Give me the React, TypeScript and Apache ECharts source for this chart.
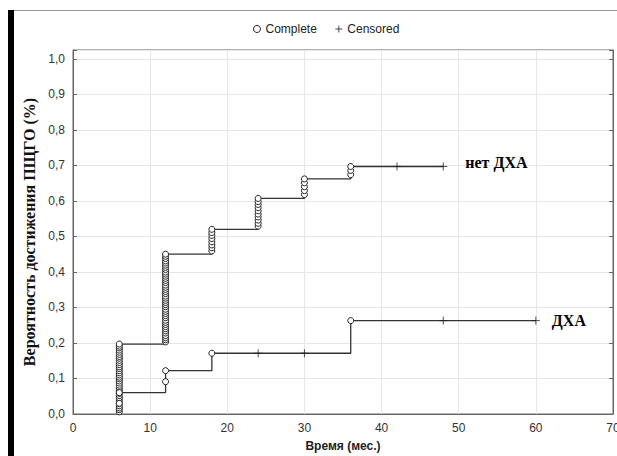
import React, { useEffect, useRef } from "react";
import * as echarts from "echarts";

// Step curves (time in months, cumulative probability)
const noDhaSteps: [number, number][] = [
  [6, 0], [6, 0.197], [12, 0.45], [18, 0.52], [24, 0.607], [30, 0.662], [36, 0.697], [48, 0.697],
];
const dhaSteps: [number, number][] = [
  [6, 0], [6, 0.06], [12, 0.122], [18, 0.171], [36, 0.263], [60, 0.263],
];

// Complete (event) markers
const noDha6 = [0.006, 0.012, 0.017, 0.023, 0.029, 0.035, 0.041, 0.046, 0.052, 0.058, 0.064, 0.07, 0.075, 0.081, 0.087, 0.093, 0.099, 0.104, 0.11, 0.116, 0.122, 0.128, 0.133, 0.139, 0.145, 0.151, 0.157, 0.162, 0.168, 0.174, 0.18, 0.186, 0.191, 0.197];
const noDha12 = [0.203, 0.209, 0.215, 0.221, 0.228, 0.234, 0.24, 0.246, 0.252, 0.258, 0.264, 0.271, 0.277, 0.283, 0.289, 0.295, 0.302, 0.308, 0.314, 0.32, 0.326, 0.332, 0.339, 0.345, 0.351, 0.357, 0.363, 0.37, 0.376, 0.382, 0.388, 0.394, 0.4, 0.407, 0.413, 0.419, 0.425, 0.431, 0.438, 0.444, 0.45];
const noDha18 = [0.459, 0.468, 0.476, 0.485, 0.494, 0.503, 0.511, 0.52];
const noDha24 = [0.529, 0.537, 0.546, 0.555, 0.563, 0.572, 0.581, 0.59, 0.598, 0.607];
const noDha30 = [0.618, 0.629, 0.64, 0.651, 0.662];
const noDha36 = [0.674, 0.686, 0.697];
const dha6 = [0.03, 0.06];
const dha12 = [0.091, 0.122];
const dha18 = [0.171];
const dha36 = [0.263];

// Censored markers
const noDhaCensored: [number, number][] = [[42, 0.697], [48, 0.697]];
const dhaCensored: [number, number][] = [[24, 0.171], [30, 0.171], [48, 0.263], [60, 0.263]];

const xTicks = [0, 10, 20, 30, 40, 50, 60, 70];

const PLUS = "path://M4,0L4,8M0,4L8,4";

export default function App() {
  const ref = useRef<HTMLDivElement>(null);
  useEffect(() => {
    document.body.style.margin = "0";
    const chart = echarts.init(ref.current!, undefined, { renderer: "svg" });
    const pts = (t: number, arr: number[]) => arr.map((v) => [t, v]);
    const complete = [
      ...pts(6, noDha6), ...pts(12, noDha12), ...pts(18, noDha18), ...pts(24, noDha24),
      ...pts(30, noDha30), ...pts(36, noDha36),
      ...pts(6, dha6), ...pts(12, dha12), ...pts(18, dha18), ...pts(36, dha36),
    ];
    const sans = "'Liberation Sans', Arial, sans-serif";
    const serif = "'Liberation Serif', 'Times New Roman', serif";
    chart.setOption({
      animation: false,
      backgroundColor: "#fff",
      legend: {
        top: 18,
        left: 248,
        itemGap: 16,
        itemWidth: 7,
        itemHeight: 7,
        textStyle: { fontFamily: sans, fontSize: 12, color: "#222" },
        data: [
          { name: "Complete", icon: "circle", itemStyle: { color: "#fff", borderColor: "#222", borderWidth: 1 } },
          { name: "Censored", icon: PLUS, itemStyle: { color: "none", borderColor: "#222", borderWidth: 1 } },
        ],
      },
      grid: {
        left: 73, right: 4, top: 50, bottom: 42,
        outerBoundsMode: "none",
        containLabel: false,
        show: true, borderColor: "#666", borderWidth: 1, backgroundColor: "#fff",
      },
      xAxis: {
        type: "value",
        min: xTicks[0],
        max: xTicks[xTicks.length - 1],
        interval: 10,
        name: "Время (мес.)",
        nameLocation: "middle",
        nameGap: 26,
        nameTextStyle: { fontFamily: sans, fontSize: 12, fontWeight: "bold", color: "#222" },
        axisLine: { lineStyle: { color: "#666" } },
        axisTick: { show: false },
        axisLabel: { fontFamily: sans, fontSize: 12, color: "#333", margin: 8 },
        splitLine: { lineStyle: { color: "#e6e6e6" } },
      },
      yAxis: [
        {
          type: "value",
          min: 0,
          max: 1.025,
          interval: 0.1,
          name: "Вероятность достижения ПЩГО (%)",
          nameLocation: "middle",
          nameRotate: 90,
          nameGap: 31,
          nameTextStyle: { fontFamily: serif, fontSize: 16, fontWeight: "bold", color: "#111" },
          axisLine: { show: true, lineStyle: { color: "#666" } },
          axisTick: { show: true, inside: true, length: 4, lineStyle: { color: "#666" } },
          axisLabel: {
            fontFamily: sans, fontSize: 12, color: "#333", margin: 8,
            formatter: (v: number) => (v > 1.001 ? "" : v.toFixed(1).replace(".", ",")),
          },
          splitLine: { lineStyle: { color: "#e6e6e6" } },
        },
        {
          type: "value",
          min: 0,
          max: 1.025,
          interval: 0.1,
          position: "right",
          axisLine: { show: true, lineStyle: { color: "#666" } },
          axisTick: { show: true, inside: true, length: 4, lineStyle: { color: "#666" } },
          axisLabel: { show: false },
          splitLine: { show: false },
        },
      ],
      graphic: [
        { type: "rect", left: 8, top: 10, shape: { width: 6, height: 446 }, style: { fill: "#000" } },
        { type: "line", shape: { x1: 14, y1: 10.5, x2: 617, y2: 10.5 }, style: { stroke: "#999", lineWidth: 1 } },
      ],
      series: [
        {
          name: "нет ДХА",
          type: "line",
          step: "end",
          data: noDhaSteps,
          symbol: "none",
          lineStyle: { color: "#333", width: 1.3 },
          z: 2,
          endLabel: {
            show: true,
            formatter: "нет ДХА",
            distance: 22,
            offset: [0, -4],
            fontFamily: serif,
            fontSize: 16,
            fontWeight: "bold",
            color: "#000",
          },
        },
        {
          name: "ДХА",
          type: "line",
          step: "end",
          data: dhaSteps,
          symbol: "none",
          lineStyle: { color: "#333", width: 1.3 },
          z: 2,
          endLabel: {
            show: true,
            formatter: "ДХА",
            distance: 16,
            fontFamily: serif,
            fontSize: 16,
            fontWeight: "bold",
            color: "#000",
          },
        },
        {
          name: "Complete",
          type: "scatter",
          data: complete,
          symbol: "circle",
          symbolSize: 6,
          itemStyle: { color: "#fff", borderColor: "#222", borderWidth: 1, opacity: 1 },
          z: 3,
        },
        {
          name: "Censored",
          type: "scatter",
          data: [...noDhaCensored, ...dhaCensored],
          symbol: PLUS,
          symbolSize: 8,
          itemStyle: { color: "none", borderColor: "#222", borderWidth: 1 },
          z: 3,
        },
      ],
    });
    return () => chart.dispose();
  }, []);
  return <div ref={ref} style={{ width: 617, height: 456 }} />;
}
